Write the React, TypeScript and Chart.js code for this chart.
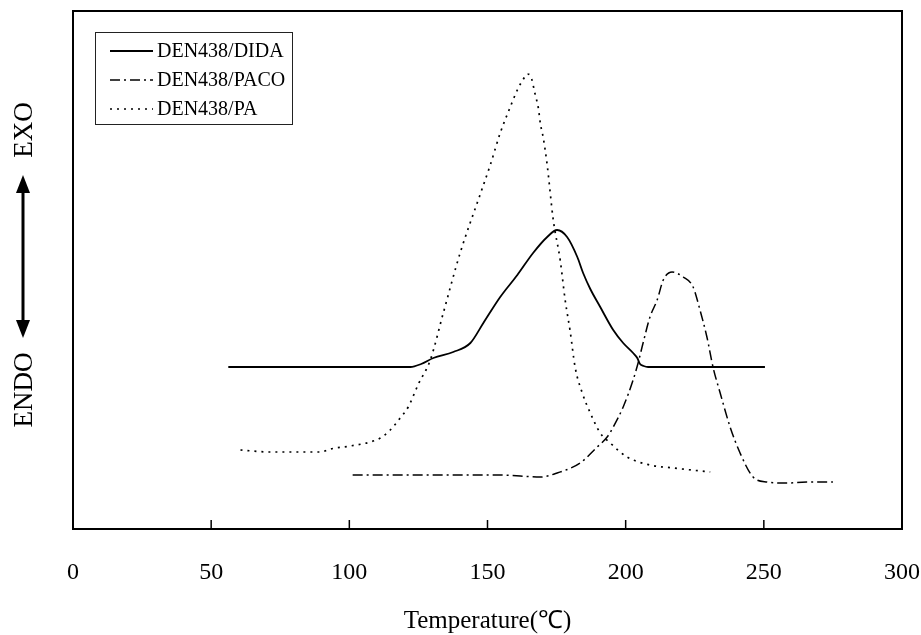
import React, { useEffect, useRef } from "react";
import { Chart, registerables } from "chart.js";

Chart.register(...registerables);

// ---- data (temperature °C, relative heat-flow units) ----
const X_TICKS = [0, 50, 100, 150, 200, 250, 300];
const SERIES_NAMES = ["DEN438/DIDA", "DEN438/PACO", "DEN438/PA"];
const X_TITLE = "Temperature(℃)";
const Y_LABEL_TOP = "EXO";
const Y_LABEL_BOTTOM = "ENDO";

const DIDA_T = [56.2, 100, 120, 122.1, 126, 130.4, 137.6, 143.8, 148.5, 154.6, 160.8, 166.5, 171.6, 175.2, 178.8, 182.5, 184.6, 187.2, 190.8, 195.5, 199.1, 202.7, 204.2, 205.2, 206.5, 208.1, 220, 250.4];
const DIDA_Y = [162, 162, 162, 162, 165, 171, 177, 186, 206, 232, 254, 276, 292, 299, 292, 272, 256, 240, 222, 199, 186, 176, 171, 165, 163, 162, 162, 162];

const PACO_T = [101.2, 130, 154.6, 169.1, 175.2, 183.5, 189.7, 193.3, 195.5, 199.1, 202.7, 204.5, 206.3, 208.8, 211.4, 213.6, 216.8, 220.8, 224.4, 226.9, 229.4, 231.6, 234.2, 237.8, 241.4, 246.1, 251.2, 258.4, 265.6, 275];
const PACO_Y = [54, 54, 54, 52, 56, 66, 82, 92, 102, 122, 149, 166, 186, 212, 229, 249, 257, 252, 242, 219, 192, 162, 136, 102, 76, 52, 47, 46, 47, 47];

const PA_T = [60.6, 71.4, 89.5, 93.1, 100.4, 107.6, 111.2, 114.8, 118.4, 121.3, 125, 129.3, 134, 140.1, 147.4, 151, 154.6, 157.8, 160.8, 163, 164.4, 165.6, 167.3, 168.4, 169.1, 170.2, 171.6, 173.8, 176.3, 178.1, 179.9, 181.7, 184.3, 187.2, 190.8, 194.4, 200.5, 208.8, 217.2, 230.6];
const PA_Y = [79, 77, 77, 80, 83, 87, 91, 99, 111, 122, 145, 169, 216, 276, 335, 364, 396, 419, 439, 450, 455, 453, 434, 421, 406, 391, 364, 309, 269, 229, 198, 162, 136, 116, 96, 86, 72, 64, 61, 57];

const SERIF = "'Liberation Serif', 'Times New Roman', serif";

const toPoints = (xs: number[], ys: number[]) => xs.map((x, i) => ({ x, y: ys[i] }));

const decorPlugin = {
  id: "decor",
  afterDraw(chart: any) {
    const { ctx, chartArea: a, scales } = chart;
    ctx.save();
    // frame
    ctx.strokeStyle = "#000";
    ctx.lineWidth = 2;
    ctx.setLineDash([]);
    ctx.strokeRect(a.left, a.top, a.right - a.left, a.bottom - a.top);

    // inward tick marks
    const xs = scales.x;
    ctx.lineWidth = 1.5;
    xs.ticks.forEach((t: any) => {
      const px = xs.getPixelForValue(t.value);
      if (px > a.left + 3 && px < a.right - 3) {
        ctx.beginPath();
        ctx.moveTo(px, a.bottom);
        ctx.lineTo(px, a.bottom - 9);
        ctx.stroke();
      }
    });

    // legend box
    const bx = a.left + 22;
    const by = a.top + 21;
    const bw = 197;
    const bh = 92;
    ctx.lineWidth = 1;
    ctx.strokeStyle = "#222";
    ctx.strokeRect(bx + 0.5, by + 0.5, bw, bh);
    ctx.font = `20px ${SERIF}`;
    ctx.fillStyle = "#000";
    ctx.textBaseline = "middle";
    ctx.textAlign = "left";
    chart.data.datasets.forEach((ds: any, i: number) => {
      const yy = by + 19 + i * 29;
      ctx.strokeStyle = "#000";
      ctx.lineWidth = ds.borderWidth;
      ctx.setLineDash(ds.borderDash || []);
      ctx.beginPath();
      ctx.moveTo(bx + 15, yy);
      ctx.lineTo(bx + 58, yy);
      ctx.stroke();
      ctx.setLineDash([]);
      ctx.fillText(ds.label, bx + 62, yy + 1);
    });

    // EXO / ENDO annotations with double arrow
    ctx.fillStyle = "#000";
    ctx.font = `27px ${SERIF}`;
    ctx.textAlign = "center";
    ctx.textBaseline = "middle";
    const drawRot = (txt: string, x: number, y: number) => {
      ctx.save();
      ctx.translate(x, y);
      ctx.rotate(-Math.PI / 2);
      ctx.fillText(txt, 0, 0);
      ctx.restore();
    };
    drawRot(Y_LABEL_TOP, 25, 130);
    drawRot(Y_LABEL_BOTTOM, 25, 390);

    const ax = 23;
    const top = 175;
    const bot = 338;
    ctx.strokeStyle = "#000";
    ctx.lineWidth = 3;
    ctx.beginPath();
    ctx.moveTo(ax, top + 12);
    ctx.lineTo(ax, bot - 12);
    ctx.stroke();
    ctx.beginPath();
    ctx.moveTo(ax, top);
    ctx.lineTo(ax - 7, top + 18);
    ctx.lineTo(ax + 7, top + 18);
    ctx.closePath();
    ctx.fill();
    ctx.beginPath();
    ctx.moveTo(ax, bot);
    ctx.lineTo(ax - 7, bot - 18);
    ctx.lineTo(ax + 7, bot - 18);
    ctx.closePath();
    ctx.fill();

    ctx.restore();
  },
};

export default function App() {
  const canvasRef = useRef<HTMLCanvasElement | null>(null);

  useEffect(() => {
    if (!canvasRef.current) return;
    const chart = new Chart(canvasRef.current, {
      type: "line",
      data: {
        datasets: [
          {
            label: SERIES_NAMES[0],
            data: toPoints(DIDA_T, DIDA_Y),
            borderColor: "#000",
            borderWidth: 1.8,
            borderDash: [],
            pointRadius: 0,
            cubicInterpolationMode: "monotone",
            fill: false,
          },
          {
            label: SERIES_NAMES[1],
            data: toPoints(PACO_T, PACO_Y),
            borderColor: "#000",
            borderWidth: 1.5,
            borderDash: [10, 4, 2, 4],
            pointRadius: 0,
            cubicInterpolationMode: "monotone",
            fill: false,
          },
          {
            label: SERIES_NAMES[2],
            data: toPoints(PA_T, PA_Y),
            borderColor: "#000",
            borderWidth: 1.7,
            borderDash: [2, 5],
            pointRadius: 0,
            cubicInterpolationMode: "monotone",
            fill: false,
          },
        ],
      },
      options: {
        animation: false,
        responsive: true,
        maintainAspectRatio: false,
        layout: { padding: { left: 73, right: 19, top: 11, bottom: 0 } },
        plugins: { legend: { display: false }, tooltip: { enabled: false } },
        scales: {
          x: {
            type: "linear",
            min: 0,
            max: 300,
            afterBuildTicks: (s: any) => {
              s.ticks = X_TICKS.map((v) => ({ value: v }));
            },
            afterFit: (s: any) => {
              s.height = 106;
              s.paddingLeft = 0;
              s.paddingRight = 0;
            },
            grid: { display: false, drawTicks: false },
            border: { display: false },
            ticks: {
              padding: 29,
              color: "#000",
              font: { family: SERIF, size: 24 },
              maxRotation: 0,
              autoSkip: false,
            },
            title: {
              display: true,
              text: X_TITLE,
              color: "#000",
              font: { family: SERIF, size: 25, lineHeight: 1.1 },
              padding: { top: 0, bottom: 0 },
            },
          },
          y: {
            type: "linear",
            min: 0,
            max: 518,
            display: false,
          },
        },
      } as any,
      plugins: [decorPlugin],
    });
    return () => chart.destroy();
  }, []);

  return (
    <div style={{ position: "fixed", left: 0, top: 0, width: 921, height: 635, background: "#fff" }}>
      <canvas ref={canvasRef} />
    </div>
  );
}
